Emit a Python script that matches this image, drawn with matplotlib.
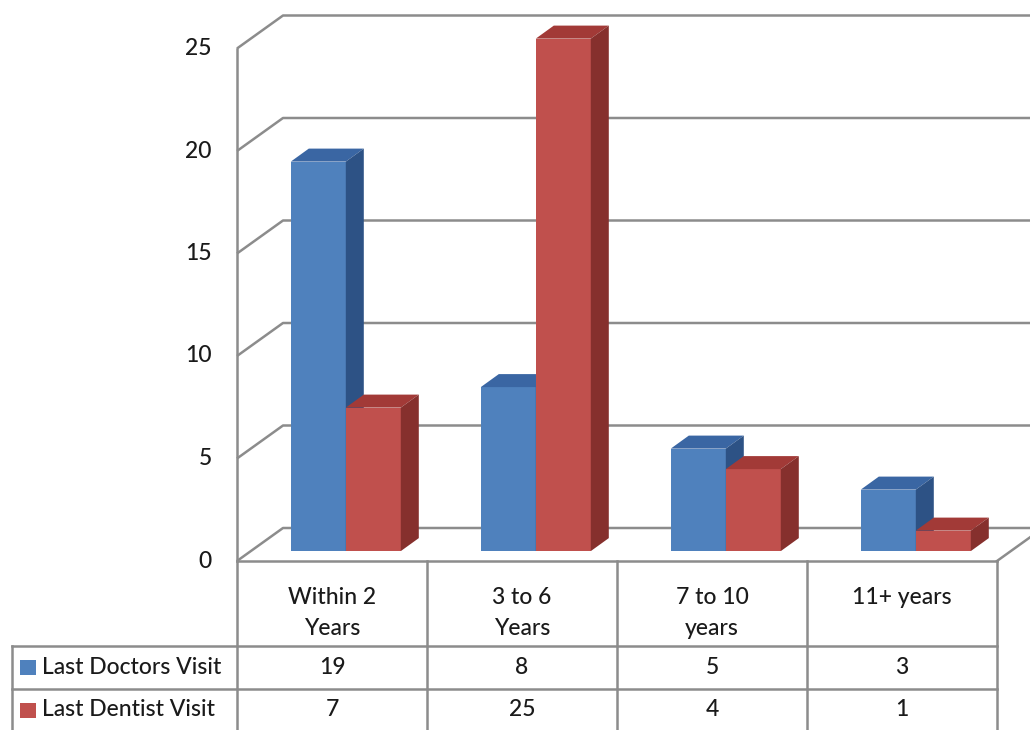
import numpy as np
import matplotlib.pyplot as plt
from matplotlib.patches import Polygon, Rectangle

plt.rcParams['font.family'] = ['Lato', 'DejaVu Sans']

# Данные
categories = ['Within 2\nYears', '3 to 6\nYears', '7 to 10\nyears', '11+ years']
series_names = ['Last Doctors Visit', 'Last Dentist Visit']
doctors = [19, 8, 5, 3]
dentist = [7, 25, 4, 1]
yticks = [0, 5, 10, 15, 20, 25]

# Цвета: лицевая грань, верх, бок
blue = ('#4F81BD', '#3A66A3', '#2D5285')
red = ('#C0504D', '#A23A37', '#86302D')
grid_c = '#8C8C8C'
txt_c = '#1A1A1A'
fs = 16.5

# Геометрия псевдо-3D (в единицах данных: 1 категория по x, 1 единица значения по y)
px_x, px_y = 190.0, 20.5        # пикселей на единицу
dX, dY = 46 / px_x, 33 / px_y   # глубина стенок
bar_w = 55 / px_x
bdx, bdy = 18 / px_x, 13 / px_y  # глубина столбика
off_x, off_y = 0.3 * dX, 0.3 * dY
x_left, x_right = -0.5, len(categories) - 0.5
ymax = 25

fig = plt.figure(figsize=(10.3, 7.3), dpi=100)
ax = fig.add_axes([0, 0, 1, 1])
ax.set_xlim(x_left - 237 / px_x, x_left + 793 / px_x)
ax.set_ylim(-(730 - 561) / px_y, 561 / px_y)
ax.axis('off')

lw = 1.8
# Сетка: левая стенка + задняя стенка
for v in yticks:
    ax.plot([x_left, x_left + dX, 10], [v, v + dY, v + dY], color=grid_c, lw=lw, zorder=1,
            solid_capstyle='butt')
    ax.text(x_left - 25 / px_x, v, str(v), ha='right', va='center', fontsize=fs, color=txt_c,
            fontweight='medium')
# Пол
ax.plot([x_right, x_right + dX], [0, dY], color=grid_c, lw=lw, zorder=1)
ax.plot([x_left, x_left], [0, ymax], color=grid_c, lw=lw, zorder=1)


def draw_bar(x0, v, colors, z):
    y0 = off_y
    ax.bar(x0, v, width=bar_w, bottom=y0, align='edge', color=colors[0], zorder=z)
    top = [(x0, y0 + v), (x0 + bar_w, y0 + v), (x0 + bar_w + bdx, y0 + v + bdy), (x0 + bdx, y0 + v + bdy)]
    side = [(x0 + bar_w, y0), (x0 + bar_w + bdx, y0 + bdy), (x0 + bar_w + bdx, y0 + v + bdy), (x0 + bar_w, y0 + v)]
    ax.add_patch(Polygon(top, closed=True, facecolor=colors[1], edgecolor='none', zorder=z))
    ax.add_patch(Polygon(side, closed=True, facecolor=colors[2], edgecolor='none', zorder=z))


x = np.arange(len(categories))
for i in x:
    draw_bar(i - bar_w + off_x, doctors[i], blue, 2)
    draw_bar(i + off_x, dentist[i], red, 3)

# Таблица данных
y_head = -(646 - 561) / px_y
y_row = -(689 - 561) / px_y
y_bot = -(730 - 561) / px_y
x_tab = x_left - 225 / px_x

ax.plot([x_left, x_right], [0, 0], color=grid_c, lw=lw, zorder=4)
for yy in (y_head, y_row):
    ax.plot([x_tab, x_right], [yy, yy], color=grid_c, lw=lw, zorder=4)
for k in range(len(categories) + 1):
    ax.plot([x_left + k, x_left + k], [0, y_bot], color=grid_c, lw=lw, zorder=4)
ax.plot([x_tab, x_tab], [y_head, y_bot], color=grid_c, lw=lw, zorder=4)

for i, c in enumerate(categories):
    ax.text(i, -(587 - 561) / px_y, c, ha='center', va='top', fontsize=fs, linespacing=1.6,
            color=txt_c, fontweight='medium')

rows = [doctors, dentist]
row_y = [-(667 - 561) / px_y, -(710 - 561) / px_y]
for r, (name, vals, col) in enumerate(zip(series_names, rows, (blue, red))):
    ax.add_patch(Rectangle((x_left - 217 / px_x, row_y[r] - 7.5 / px_y), 16 / px_x, 15 / px_y,
                           facecolor=col[0], edgecolor='none'))
    ax.text(x_left - 195 / px_x, row_y[r], name, ha='left', va='center', fontsize=fs, color=txt_c,
            fontweight='medium')
    for i, v in enumerate(vals):
        ax.text(i, row_y[r], str(v), ha='center', va='center', fontsize=fs, color=txt_c,
                fontweight='medium')

fig.savefig('out.png', dpi=100)
